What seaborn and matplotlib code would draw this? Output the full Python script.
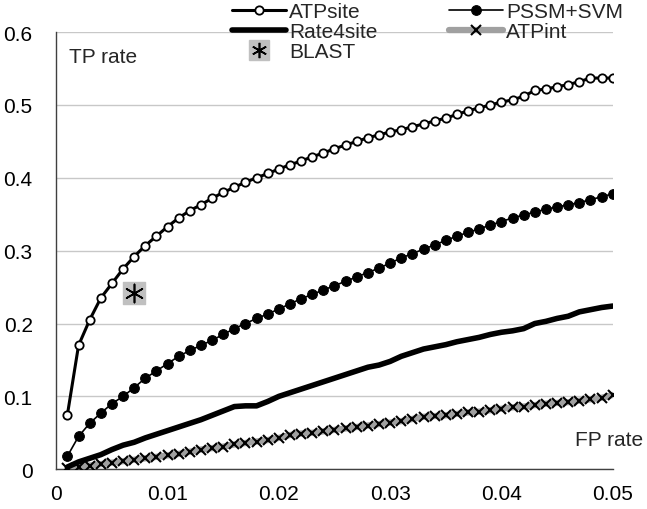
import numpy as np
import pandas as pd
import matplotlib
matplotlib.use("Agg")
import matplotlib.pyplot as plt
import seaborn as sns

# FP rate grid (0.001 .. 0.050)
fp = [round(0.001 * i, 3) for i in range(1, 51)]

atpsite = [0.075, 0.170, 0.205, 0.235, 0.255, 0.275, 0.292, 0.307, 0.320, 0.333,
           0.345, 0.355, 0.363, 0.372, 0.380, 0.387, 0.394, 0.400, 0.406, 0.412,
           0.418, 0.423, 0.429, 0.434, 0.440, 0.445, 0.450, 0.455, 0.459, 0.463,
           0.466, 0.470, 0.474, 0.478, 0.482, 0.487, 0.492, 0.496, 0.500, 0.504,
           0.507, 0.512, 0.520, 0.522, 0.525, 0.528, 0.532, 0.537, 0.537, 0.537]

pssm_svm = [0.018, 0.045, 0.063, 0.077, 0.090, 0.100, 0.112, 0.125, 0.135, 0.145,
            0.155, 0.163, 0.170, 0.177, 0.185, 0.193, 0.200, 0.207, 0.213, 0.220,
            0.227, 0.234, 0.240, 0.246, 0.252, 0.258, 0.264, 0.270, 0.276, 0.283,
            0.290, 0.296, 0.302, 0.308, 0.314, 0.320, 0.325, 0.330, 0.335, 0.340,
            0.345, 0.349, 0.353, 0.357, 0.360, 0.363, 0.366, 0.370, 0.374, 0.378]

rate4site = [0.003, 0.010, 0.015, 0.020, 0.027, 0.033, 0.037, 0.043, 0.048, 0.053,
             0.058, 0.063, 0.068, 0.074, 0.080, 0.086, 0.087, 0.087, 0.093, 0.100,
             0.105, 0.110, 0.115, 0.120, 0.125, 0.130, 0.135, 0.140, 0.143, 0.148,
             0.155, 0.160, 0.165, 0.168, 0.171, 0.175, 0.178, 0.181, 0.185, 0.188,
             0.190, 0.193, 0.200, 0.203, 0.207, 0.210, 0.216, 0.219, 0.222, 0.224]

atpint = [0.001, 0.003, 0.005, 0.007, 0.009, 0.011, 0.013, 0.015, 0.017, 0.019,
          0.021, 0.024, 0.027, 0.029, 0.031, 0.034, 0.036, 0.038, 0.040, 0.043,
          0.047, 0.049, 0.050, 0.052, 0.054, 0.056, 0.058, 0.060, 0.062, 0.064,
          0.066, 0.069, 0.072, 0.073, 0.074, 0.076, 0.078, 0.079, 0.081, 0.083,
          0.085, 0.086, 0.088, 0.090, 0.091, 0.092, 0.094, 0.096, 0.098, 0.102]

blast_fp = [0.007]
blast_tp = [0.242]

sns.set_style("white")
plt.rcParams['font.family'] = ['Liberation Sans', 'DejaVu Sans']

fig = plt.figure(figsize=(6.47, 5.10), dpi=100)
ax = fig.add_axes([0.087, 0.078, 0.860, 0.857])

df = pd.DataFrame({"fp": fp, "ATPsite": atpsite, "PSSM+SVM": pssm_svm,
                   "Rate4site": rate4site, "ATPint": atpint})

sns.lineplot(data=df, x="fp", y="ATPsite", ax=ax, color="black", lw=2.2,
             marker="o", markersize=6, markerfacecolor="white",
             markeredgecolor="black", markeredgewidth=1.3, label="ATPsite", zorder=5)
sns.lineplot(data=df, x="fp", y="Rate4site", ax=ax, color="black", lw=4,
             label="Rate4site", zorder=4)
sns.lineplot(data=df, x="fp", y="PSSM+SVM", ax=ax, color="black", lw=1.2,
             marker="o", markersize=7, markerfacecolor="black",
             markeredgecolor="black", label="PSSM+SVM", zorder=4)
sns.lineplot(data=df, x="fp", y="ATPint", ax=ax, color="#a0a0a0", lw=4.5,
             marker="x", markersize=7, markeredgecolor="black",
             markeredgewidth=1.5, label="ATPint", zorder=3)

# BLAST single point: gray square with asterisk
ax.scatter(blast_fp, blast_tp, marker="s", s=260, color="#c0c0c0", zorder=6)
ax.scatter(blast_fp, blast_tp, marker=(6, 2, 0), s=170, color="black",
           linewidths=1.2, zorder=7)

ax.set_xlim(0, 0.05)
ax.set_ylim(0, 0.6)
ax.set_xticks(np.arange(0, 0.051, 0.01))
ax.set_xticklabels(["0", "0.01", "0.02", "0.03", "0.04", "0.05"])
ax.set_yticks(np.arange(0, 0.61, 0.1))
ax.set_yticklabels(["0", "0.1", "0.2", "0.3", "0.4", "0.5", "0.6"])
ax.tick_params(axis="both", labelsize=15, colors="black", direction="out",
               length=5, width=1)
ax.tick_params(axis="x", pad=6)
ax.tick_params(axis="y", pad=12)
ax.yaxis.grid(True, color="#c8c8c8", lw=1)
ax.set_axisbelow(True)
for s in ["top", "right"]:
    ax.spines[s].set_visible(False)
for s in ["left", "bottom"]:
    ax.spines[s].set_color("#404040")
    ax.spines[s].set_linewidth(1)
ax.set_xlabel("")
ax.set_ylabel("")

ax.text(0.0011, 0.566, "TP rate", fontsize=15, va="center", ha="left")
ax.text(0.0466, 0.041, "FP rate", fontsize=15, va="center", ha="left")

# legend
h, l = ax.get_legend_handles_labels()
ax.get_legend().remove()
blast_handle = (plt.Line2D([], [], marker="s", ls="", markersize=14, color="#c0c0c0"),
                plt.Line2D([], [], marker=(6, 2, 0), ls="", markersize=11,
                           color="black", markeredgewidth=1.2))
hd = dict(zip(l, h))
handles = [hd["ATPsite"], hd["Rate4site"], blast_handle, hd["PSSM+SVM"], hd["ATPint"]]
labels = ["ATPsite", "Rate4site", "BLAST", "PSSM+SVM", "ATPint"]
fig.legend(handles, labels, ncol=2, loc="upper left",
           bbox_to_anchor=(232 / 647, 1 - 3 / 510),
           frameon=False, fontsize=15, handlelength=2.6, handletextpad=0.15,
           labelspacing=0.05, columnspacing=3.4, borderpad=0, borderaxespad=0)

fig.savefig("out.png", dpi=100)
